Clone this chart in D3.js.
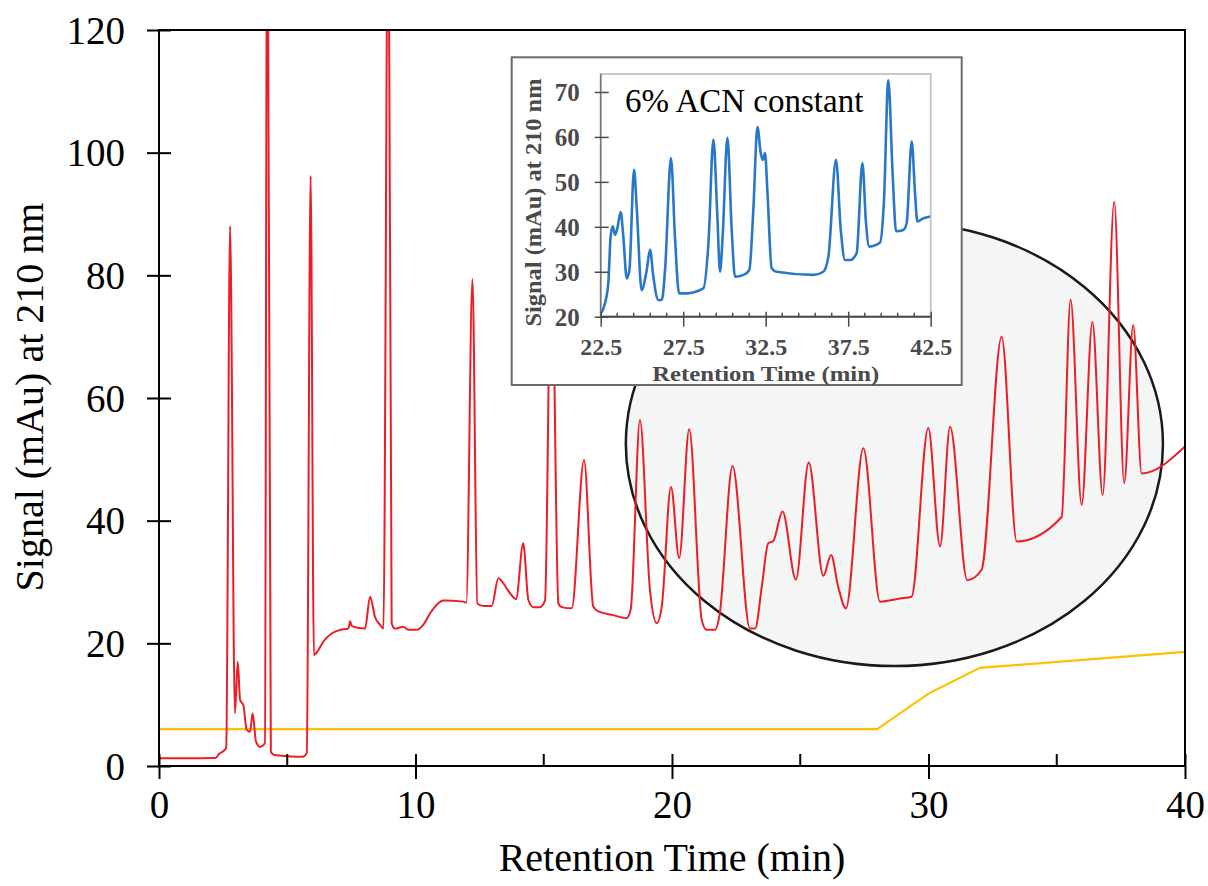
<!DOCTYPE html>
<html>
<head>
<meta charset="utf-8">
<script src="https://cdn.jsdelivr.net/npm/d3@7"></script>
<style>
  body { margin: 0; background: #fff; }
  svg { display: block; }
</style>
</head>
<body>
<svg id="chart" width="1208" height="886"></svg>
<script>
// ---- Chromatogram, gradient run (red) ----
const mainTime = [
  0, 1.0, 2.2, 2.35, 2.5, 2.62, 2.77, 2.96, 3.07, 3.16, 3.29, 3.42, 3.55, 3.65, 3.78, 3.94, 4.13,
  4.22, 4.36, 4.5, 5.0, 5.6, 5.76, 5.91, 6.04, 6.21, 6.41, 6.73, 7.06, 7.38, 7.45, 7.52, 8.03,
  8.23, 8.42, 8.62, 8.75, 8.94, 9.07, 9.2, 9.52, 9.72, 10.05, 10.3, 10.57, 10.83, 11.08, 11.86,
  11.98, 12.22, 12.41, 12.65, 12.97, 13.23, 13.42, 13.68, 13.92, 14.2, 14.4, 14.59, 14.85, 15.05,
  15.3, 15.57, 15.7, 16.09, 16.57, 16.93, 17.13, 17.71, 18.23, 18.39, 18.75, 19.14, 19.4, 19.6,
  19.96, 20.28, 20.67, 21.16, 21.35, 21.68, 21.85, 22.36, 23.04, 23.24, 23.5, 23.75, 23.95, 24.31,
  24.83, 25.33, 25.9, 26.2, 26.48, 26.78, 27.46, 28.11, 28.89, 29.34, 29.99, 30.45, 30.84, 31.51,
  32.07, 32.85, 33.44, 35.19, 35.54, 35.97, 36.39, 36.79, 37.24, 37.63, 37.98, 38.31, 40.0
];
const mainSignal = [
  1.25, 1.25, 1.3, 2.0, 2.4, 3.0, 88, 8.6, 17.0, 10.8, 9.9, 5.9, 5.6, 8.6, 4.0, 3.1, 3.7,
  160, 2.3, 1.8, 1.6, 1.5, 2.1, 96.2, 18.1, 18.9, 20.3, 21.6, 22.2, 22.4, 23.6, 22.8, 22.4,
  27.6, 24.3, 23.0, 22.4, 150, 23.3, 22.4, 22.7, 22.2, 22.2, 23.0, 24.9, 26.3, 27.0, 26.8,
  26.6, 79.4, 26.5, 26.1, 26.1, 30.6, 29.8, 28.2, 27.2, 36.3, 27.1, 25.9, 25.9, 27.0,
  88, 26.5, 25.9, 25.7, 49.9, 26.0, 25.2, 24.6, 24.1, 25.5, 56.4, 28.7, 23.3, 26.0,
  45.5, 33.9, 54.9, 23.8, 22.2, 22.2, 24.5, 48.9, 22.4, 22.4, 29.2, 36.3, 36.7, 41.5,
  30.4, 49.5, 31.0, 34.4, 29.2, 25.7, 51.8, 26.8, 27.3, 27.6, 55.1, 35.8, 55.3, 30.3,
  32.0, 70.0, 36.6, 40.6, 76.0, 42.6, 72.4, 44.2, 92.0, 46.1, 71.9, 47.7, 52.1
];

// ---- Acetonitrile gradient (yellow) ----
const gradientTime = [0, 28, 30, 32, 40];
const gradientValue = [6, 6, 11.8, 16, 18.6];

// ---- Inset: 6% ACN isocratic run (blue) ----
const insetTime = [
  22.5, 22.76, 22.96, 23.1, 23.23, 23.37, 23.51, 23.71, 23.87, 24.08, 24.24, 24.52, 24.68, 24.98,
  25.29, 25.49, 25.69, 25.99, 26.2, 26.4, 26.76, 27.0, 27.25, 27.71, 28.72, 29.03, 29.33, 29.57,
  29.73, 29.89, 30.18, 30.44, 30.64, 31.15, 31.51, 31.75, 32.0, 32.2, 32.32, 32.46, 32.6, 32.86,
  33.17, 35.39, 35.99, 36.3, 36.76, 37.05, 37.31, 37.61, 38.01, 38.36, 38.58, 38.78, 39.43, 39.67,
  39.93, 40.2, 40.4, 40.84, 41.04, 41.35, 41.55, 41.69, 42.06, 42.46
];
const insetSignal = [
  20.7, 23.0, 27.4, 37.8, 40.1, 38.2, 39.7, 43.3, 37.8, 28.5, 30.4, 52.7, 44.5, 25.9,
  30.4, 34.9, 28.9, 23.7, 23.7, 30.4, 55.3, 37.8, 25.2, 25.2, 26.3, 36.4, 59.4, 42.3,
  30.0, 37.8, 59.8, 39.3, 28.9, 29.3, 30.4, 43.8, 62.2, 56.4, 54.9, 56.4, 48.2, 30.8,
  30.0, 29.3, 30.0, 33.4, 54.9, 39.3, 32.6, 32.6, 34.1, 54.2, 40.8, 35.6, 36.5, 46.0,
  72.6, 51.2, 39.0, 39.3, 40.8, 59.0, 47.5, 41.2, 41.9, 42.3
];

// ---- Tick values ----
const mainXTicks = [0, 10, 20, 30, 40];
const mainXMinorTicks = [5, 15, 25, 35];
const mainYTicks = [0, 20, 40, 60, 80, 100, 120];
const insetXTicks = [22.5, 27.5, 32.5, 37.5, 42.5];
const insetXMinorTicks = [23.5, 24.5, 25.5, 26.5, 28.5, 29.5, 30.5, 31.5, 33.5, 34.5, 35.5, 36.5, 38.5, 39.5, 40.5, 41.5];
const insetYTicks = [20, 30, 40, 50, 60, 70];

const SERIF = "'Liberation Serif', 'Times New Roman', serif";
const svg = d3.select("#chart");

// ================= Main chart =================
const M = { left: 159, right: 1185, top: 30, bottom: 766 };
const x = d3.scaleLinear().domain([0, 40]).range([M.left, M.right]);
const y = d3.scaleLinear().domain([0, 120]).range([M.bottom, M.top]);

svg.append("defs").append("clipPath").attr("id", "plotClip")
  .append("rect")
  .attr("x", M.left).attr("y", M.top)
  .attr("width", M.right - M.left).attr("height", M.bottom - M.top);

// highlighted region of the late-eluting peaks
svg.append("ellipse")
  .attr("cx", x(28.67)).attr("cy", y(52.5))
  .attr("rx", x(10.47) - x(0)).attr("ry", y(0) - y(36.2))
  .attr("fill", "#f4f5f5")
  .attr("stroke", "#1a1a1a")
  .attr("stroke-width", 2.5);

const plot = svg.append("g").attr("clip-path", "url(#plotClip)");

const gradientPts = gradientTime.map((t, i) => [t, gradientValue[i]]);
plot.append("path")
  .datum(gradientPts)
  .attr("fill", "none")
  .attr("stroke", "#ffc000")
  .attr("stroke-width", 2.2)
  .attr("d", d3.line().x(d => x(d[0])).y(d => y(d[1])));

const mainPts = mainTime.map((t, i) => [t, mainSignal[i]]);
plot.append("path")
  .datum(mainPts)
  .attr("fill", "none")
  .attr("stroke", "#ee1c25")
  .attr("stroke-width", 2)
  .attr("stroke-linejoin", "round")
  .attr("d", d3.line().x(d => x(d[0])).y(d => y(d[1])).curve(d3.curveMonotoneX));

// frame
svg.append("rect")
  .attr("x", M.left).attr("y", M.top)
  .attr("width", M.right - M.left).attr("height", M.bottom - M.top)
  .attr("fill", "none").attr("stroke", "#000").attr("stroke-width", 2);

// y axis
const yAxis = svg.append("g")
  .attr("transform", `translate(${M.left},0)`)
  .call(d3.axisLeft(y).tickValues(mainYTicks).tickSize(0).tickPadding(0).tickFormat(d3.format("d")));
yAxis.select(".domain").remove();
yAxis.selectAll(".tick line").attr("x1", -12).attr("x2", 12).attr("stroke", "#000").attr("stroke-width", 2);
yAxis.selectAll(".tick text")
  .attr("x", -34).attr("dy", "0.34em")
  .style("font-family", SERIF).style("font-size", "39px").attr("fill", "#000");

// x axis
const xAxis = svg.append("g")
  .attr("transform", `translate(0,${M.bottom})`)
  .call(d3.axisBottom(x).tickValues(mainXTicks).tickSize(0).tickPadding(0).tickFormat(d3.format("d")));
xAxis.select(".domain").remove();
xAxis.selectAll(".tick line").attr("y1", -12).attr("y2", 13).attr("stroke", "#000").attr("stroke-width", 2);
xAxis.selectAll(".tick text")
  .attr("y", 52).attr("dy", 0)
  .style("font-family", SERIF).style("font-size", "39px").attr("fill", "#000");
svg.append("g").selectAll("line").data(mainXMinorTicks).join("line")
  .attr("x1", d => x(d)).attr("x2", d => x(d))
  .attr("y1", M.bottom - 12).attr("y2", M.bottom)
  .attr("stroke", "#000").attr("stroke-width", 2);

// axis titles
svg.append("text")
  .attr("x", (M.left + M.right) / 2).attr("y", 871)
  .attr("text-anchor", "middle")
  .style("font-family", SERIF).style("font-size", "40px")
  .text("Retention Time (min)");
svg.append("text")
  .attr("transform", "translate(43,397) rotate(-90)")
  .attr("text-anchor", "middle")
  .style("font-family", SERIF).style("font-size", "40px")
  .text("Signal (mAu) at 210 nm");

// ================= Inset =================
const B = { left: 511.7, right: 961.7, top: 57.3, bottom: 385 };
svg.append("rect")
  .attr("x", B.left).attr("y", B.top)
  .attr("width", B.right - B.left).attr("height", B.bottom - B.top)
  .attr("fill", "#fff").attr("stroke", "#6b6b6b").attr("stroke-width", 2);

const I = { left: 600.7, right: 930.7, top: 74, bottom: 316.7 };
const ix = d3.scaleLinear().domain([22.5, 42.5]).range([I.left, I.right]);
const iy = d3.scaleLinear().domain([20, 74]).range([I.bottom, I.top]);

// plot area outline
svg.append("rect")
  .attr("x", I.left).attr("y", I.top)
  .attr("width", I.right - I.left).attr("height", I.bottom - I.top)
  .attr("fill", "none").attr("stroke", "#c8c8c8").attr("stroke-width", 2);

const insetPts = insetTime.map((t, i) => [t, insetSignal[i]]);
svg.append("path")
  .datum(insetPts)
  .attr("fill", "none")
  .attr("stroke", "#2878c8")
  .attr("stroke-width", 2.6)
  .attr("stroke-linejoin", "round")
  .attr("d", d3.line().x(d => ix(d[0])).y(d => iy(d[1])).curve(d3.curveMonotoneX));

const AX = "#4a4a4a";
// inset axis lines
svg.append("line").attr("x1", I.left).attr("x2", I.left).attr("y1", I.top).attr("y2", I.bottom)
  .attr("stroke", "#777").attr("stroke-width", 1.5);
svg.append("line").attr("x1", I.left).attr("x2", I.right).attr("y1", I.bottom).attr("y2", I.bottom)
  .attr("stroke", AX).attr("stroke-width", 2);

const iyAxis = svg.append("g")
  .attr("transform", `translate(${I.left},0)`)
  .call(d3.axisLeft(iy).tickValues(insetYTicks).tickSize(0).tickPadding(0));
iyAxis.select(".domain").remove();
iyAxis.selectAll(".tick line").attr("x1", -6).attr("x2", 8).attr("stroke", AX).attr("stroke-width", 1.5);
iyAxis.selectAll(".tick text")
  .attr("x", -21).attr("dy", "0.34em")
  .style("font-family", SERIF).style("font-size", "25px").style("font-weight", "bold").attr("fill", AX);

const ixAxis = svg.append("g")
  .attr("transform", `translate(0,${I.bottom})`)
  .call(d3.axisBottom(ix).tickValues(insetXTicks).tickSize(0).tickPadding(0).tickFormat(d3.format(".1f")));
ixAxis.select(".domain").remove();
ixAxis.selectAll(".tick line").attr("y1", -5).attr("y2", 10).attr("stroke", AX).attr("stroke-width", 1.5);
ixAxis.selectAll(".tick text")
  .attr("y", 38).attr("dy", 0)
  .style("font-family", SERIF).style("font-size", "24px").style("font-weight", "bold").attr("fill", AX);
svg.append("g").selectAll("line").data(insetXMinorTicks).join("line")
  .attr("x1", d => ix(d)).attr("x2", d => ix(d))
  .attr("y1", I.bottom - 4).attr("y2", I.bottom)
  .attr("stroke", AX).attr("stroke-width", 1.5);

svg.append("text")
  .attr("x", (I.left + I.right) / 2).attr("y", 380.5)
  .attr("text-anchor", "middle")
  .attr("textLength", 227).attr("lengthAdjust", "spacingAndGlyphs")
  .style("font-family", SERIF).style("font-size", "21px").style("font-weight", "bold").attr("fill", AX)
  .text("Retention Time (min)");
svg.append("text")
  .attr("transform", "translate(541,202.5) rotate(-90)")
  .attr("text-anchor", "middle")
  .attr("textLength", 248).attr("lengthAdjust", "spacingAndGlyphs")
  .style("font-family", SERIF).style("font-size", "23px").style("font-weight", "bold").attr("fill", AX)
  .text("Signal (mAu) at 210 nm");

svg.append("text")
  .attr("x", 625).attr("y", 111.7)
  .style("font-family", SERIF).style("font-size", "33px").attr("fill", "#000")
  .text("6% ACN constant");
</script>
</body>
</html>
